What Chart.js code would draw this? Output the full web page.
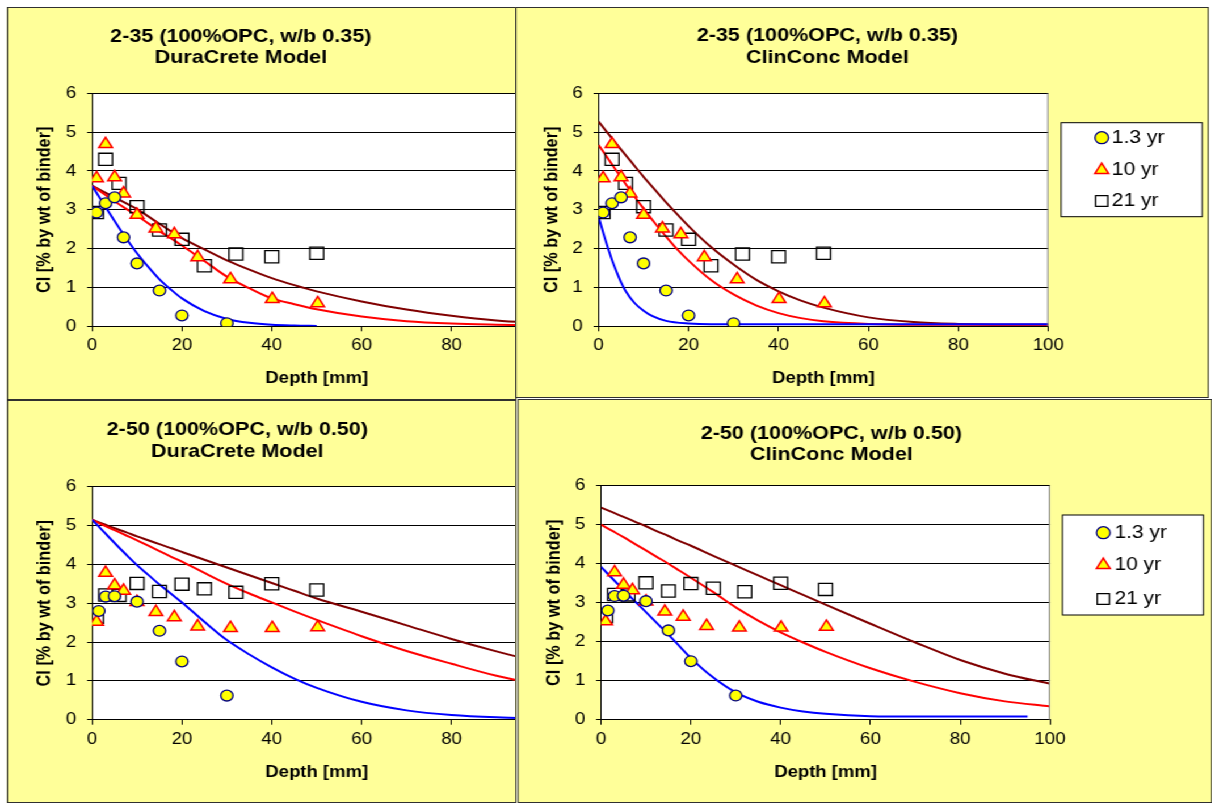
<!DOCTYPE html>
<html>
<head>
<meta charset="utf-8">
<title>Chloride profiles 2-35 / 2-50</title>
<script src="https://cdn.jsdelivr.net/npm/chart.js@4.4.1/dist/chart.umd.min.js"></script>
<style>
html, body { margin: 0; padding: 0; background: #fff; width: 1212px; height: 803px; overflow: hidden; }
/* the sheet is laid out in narrow units and widened by scaleX */
#sheet { position: absolute; left: 0; top: 0; width: 1068px; height: 803px; transform: scaleX(1.135); transform-origin: 0 0; }
.panel { position: absolute; box-sizing: border-box; background: #ffff99; border: 1.5px solid #303030; overflow: hidden; }
.panel canvas { position: absolute; left: -1.5px; top: -1.5px; }
</style>
</head>
<body>
<div id="sheet">
  <div class="panel" style="left:6.17px; top:7px; width:448.5px; height:393px;"><canvas id="dc35" width="500" height="393"></canvas></div>
  <div class="panel" style="left:453.7px; top:7px; width:611.5px; height:391px;"><canvas id="cc35" width="612" height="391"></canvas></div>
  <div class="panel" style="left:6.17px; top:400px; width:449.3px; height:403px;"><canvas id="dc50" width="500" height="403"></canvas></div>
  <div class="panel" style="left:455.5px; top:399px; width:612.3px; height:404px;"><canvas id="cc50" width="613" height="404"></canvas></div>
</div>
<script>
// measured chloride, depth in mm, Cl in % by wt of binder
const depth13yr35 = [1, 3, 5, 7, 10, 15, 20, 30];
const cl13yr35 = [2.93, 3.17, 3.32, 2.29, 1.62, 0.92, 0.28, 0.08];
const depth10yr = [1, 3, 5, 7, 10, 14.2, 18.3, 23.5, 30.8, 40.1, 50.2];
const cl10yr35 = [3.81, 4.69, 3.84, 3.42, 2.87, 2.52, 2.37, 1.78, 1.21, 0.70, 0.59];
const depth21yr = [1, 3, 6, 10, 15, 20, 25, 32, 40, 50];
const cl21yr35 = [2.93, 4.30, 3.68, 3.08, 2.48, 2.24, 1.56, 1.86, 1.79, 1.88];

const depth13yr50 = [1.5, 3, 5, 10, 15, 20, 30];
const cl13yr50 = [2.80, 3.17, 3.18, 3.04, 2.29, 1.50, 0.62];
const cl10yr50 = [2.52, 3.78, 3.46, 3.32, 3.03, 2.77, 2.64, 2.40, 2.36, 2.36, 2.38];
const cl21yr50 = [2.64, 3.21, 3.20, 3.51, 3.30, 3.49, 3.37, 3.28, 3.50, 3.34];

// model predictions
const modelDepth = [0, 2.5, 5, 7.5, 10, 12.5, 15, 17.5, 20, 25, 30, 35, 40, 45, 50, 60, 70, 80, 90, 100];
const dc35_13 = [3.62, 3.16, 2.71, 2.28, 1.88, 1.53, 1.21, 0.95, 0.72, 0.39, 0.19, 0.09, 0.04, 0.02, 0.01];
const dc35_10 = [3.62, 3.42, 3.22, 3.03, 2.85, 2.65, 2.45, 2.27, 2.08, 1.68, 1.28, 0.98, 0.72, 0.57, 0.44, 0.25, 0.13, 0.07, 0.04, 0.02];
const dc35_21 = [3.62, 3.47, 3.32, 3.17, 3.02, 2.83, 2.64, 2.45, 2.27, 1.98, 1.70, 1.46, 1.24, 1.06, 0.90, 0.64, 0.43, 0.27, 0.15, 0.08];

const cc35Depth13 = [0, 1, 2, 3, 4, 5, 6, 8, 10, 12, 15, 20, 25, 30, 40, 50, 60, 70, 80, 90, 100];
const cc35_13 = [2.82, 2.42, 2.05, 1.70, 1.40, 1.13, 0.91, 0.60, 0.40, 0.26, 0.14, 0.07, 0.05, 0.05, 0.05, 0.05, 0.05, 0.05, 0.05, 0.05, 0.05];
const cc35_10 = [4.67, 4.25, 3.83, 3.42, 3.03, 2.66, 2.31, 1.98, 1.69, 1.19, 0.82, 0.54, 0.34, 0.21, 0.13, 0.06, 0.04, 0.04, 0.04, 0.04];
const cc35_21 = [5.27, 4.91, 4.55, 4.20, 3.85, 3.52, 3.19, 2.88, 2.58, 2.04, 1.59, 1.20, 0.90, 0.66, 0.48, 0.23, 0.11, 0.06, 0.04, 0.04];

const dc50_13 = [5.15, 4.85, 4.55, 4.26, 3.98, 3.73, 3.48, 3.25, 3.02, 2.52, 2.05, 1.68, 1.35, 1.06, 0.82, 0.46, 0.24, 0.12, 0.06, 0.03];
const dc50_10 = [5.15, 5.01, 4.88, 4.75, 4.62, 4.48, 4.34, 4.20, 4.07, 3.78, 3.50, 3.25, 3.02, 2.79, 2.57, 2.15, 1.77, 1.44, 1.13, 0.88];
const dc50_21 = [5.15, 5.04, 4.93, 4.83, 4.72, 4.62, 4.52, 4.42, 4.32, 4.12, 3.92, 3.72, 3.52, 3.32, 3.12, 2.78, 2.43, 2.08, 1.76, 1.47];

const cc50Depth13 = [0, 2.5, 5, 7.5, 10, 12.5, 15, 17.5, 20, 25, 30, 35, 40, 45, 50, 60, 70, 80, 95];
const cc50_13 = [3.92, 3.62, 3.33, 3.04, 2.76, 2.47, 2.18, 1.88, 1.58, 1.08, 0.70, 0.46, 0.31, 0.21, 0.15, 0.09, 0.08, 0.08, 0.08];
const cc50_10 = [5.00, 4.84, 4.68, 4.51, 4.34, 4.17, 4.00, 3.82, 3.64, 3.27, 2.88, 2.54, 2.24, 1.98, 1.74, 1.32, 0.97, 0.68, 0.47, 0.34];
const cc50_21 = [5.44, 5.32, 5.20, 5.08, 4.96, 4.83, 4.71, 4.58, 4.46, 4.20, 3.95, 3.70, 3.45, 3.20, 2.95, 2.46, 1.98, 1.53, 1.18, 0.92];

const ageLabels = ['1.3 yr', '10 yr', '21 yr'];
const xTicks = { min: 0, max: 100, step: 20 };
const yTicks = { min: 0, max: 6, step: 1 };

const FONT = '"Liberation Sans", Arial, Helvetica, sans-serif';

function pts(xs, ys) {
    return ys.map((y, i) => ({ x: xs[i], y: y }));
}

function measured(label, xs, ys, style) {
    return Object.assign({ label: label, data: pts(xs, ys), showLine: false }, style);
}

function model(xs, ys, color) {
    return {
        label: '', data: pts(xs, ys), showLine: true, pointRadius: 0,
        borderColor: color, borderWidth: 2, fill: false, cubicInterpolationMode: 'monotone'
    };
}

const circleStyle = { pointStyle: 'circle', pointRadius: 5.4, backgroundColor: '#ffff00', borderColor: '#000080', borderWidth: 1.3 };
const triangleStyle = { pointStyle: 'triangle', pointRadius: 6.9, backgroundColor: '#ffff00', borderColor: '#ff0000', borderWidth: 1.5 };
const squareStyle = { pointStyle: 'rect', pointRadius: 8.6, backgroundColor: 'rgba(0,0,0,0)', borderColor: '#000000', borderWidth: 1.3 };

// white plot area, frame, two-line title and boxed legend
const panelDecor = {
    id: 'panelDecor',
    beforeDraw(chart) {
        const { ctx, chartArea: a } = chart;
        ctx.save();
        ctx.fillStyle = '#ffffff';
        ctx.fillRect(a.left, a.top, a.width, a.height);
        ctx.restore();
    },
    afterDraw(chart, args, opts) {
        const { ctx, chartArea: a } = chart;
        ctx.save();
        ctx.strokeStyle = '#808080';
        ctx.lineWidth = 1;
        ctx.beginPath();
        ctx.moveTo(a.right - 0.5, a.bottom);
        ctx.lineTo(a.right - 0.5, a.top);
        ctx.stroke();

        ctx.fillStyle = '#000';
        ctx.font = 'bold 19px ' + FONT;
        ctx.textAlign = 'center';
        ctx.textBaseline = 'middle';
        opts.title.forEach((line, i) => ctx.fillText(line, opts.titleX, opts.titleY[i]));

        const lg = opts.legend;
        if (lg) {
            const [x0, y0, x1, y1] = lg.box;
            ctx.fillStyle = '#ffffff';
            ctx.fillRect(x0, y0, x1 - x0, y1 - y0);
            ctx.strokeStyle = '#000';
            ctx.lineWidth = 1;
            ctx.strokeRect(x0, y0, x1 - x0, y1 - y0);
            const marks = chart.data.datasets.filter(d => !d.showLine);
            marks.forEach((ds, i) => {
                const y = lg.rows[i];
                ctx.fillStyle = ds.backgroundColor;
                ctx.strokeStyle = ds.borderColor;
                ctx.lineWidth = ds.borderWidth;
                Chart.helpers.drawPoint(ctx, {
                    pointStyle: ds.pointStyle, radius: lg.radius[i], rotation: 0, borderWidth: ds.borderWidth
                }, lg.markerX, y);
                ctx.fillStyle = '#000';
                ctx.font = '18.5px ' + FONT;
                ctx.textAlign = 'left';
                ctx.textBaseline = 'middle';
                ctx.fillText(ds.label, lg.textX, y);
            });
        }
        ctx.restore();
    }
};

function makePanel(id, data, geo) {
    const tickFont = { family: FONT, size: 16.5 };
    const titleFont = { family: FONT, size: 16.3, weight: 'bold' };
    return new Chart(document.getElementById(id), {
        type: 'scatter',
        data: {
            datasets: [
                measured(ageLabels[0], data.d13, data.m13, circleStyle),
                measured(ageLabels[1], depth10yr, data.m10, triangleStyle),
                measured(ageLabels[2], depth21yr, data.m21, squareStyle),
                model(data.c13x, data.c13, '#0000ff'),
                model(modelDepth, data.c10, '#ff0000'),
                model(modelDepth, data.c21, '#800000')
            ]
        },
        plugins: [panelDecor],
        options: {
            responsive: false,
            animation: false,
            events: [],
            layout: { padding: geo.pad },
            plugins: {
                legend: { display: false },
                tooltip: { enabled: false },
                panelDecor: { title: data.title, titleX: geo.titleX, titleY: geo.titleY, legend: geo.legend }
            },
            scales: {
                x: {
                    type: 'linear', min: xTicks.min, max: xTicks.max,
                    afterFit(s) { s.height = 70; },
                    ticks: { stepSize: xTicks.step, padding: 4.5, color: '#000', font: tickFont },
                    grid: { drawOnChartArea: false, drawTicks: true, tickLength: 5, color: '#000' },
                    border: { color: '#000', width: 1 },
                    title: { display: true, text: 'Depth [mm]', color: '#000', font: titleFont, padding: { top: 0, bottom: geo.xTitlePad } }
                },
                y: {
                    type: 'linear', min: yTicks.min, max: yTicks.max,
                    afterFit(s) { s.width = geo.yWidth; },
                    ticks: { stepSize: yTicks.step, padding: 9.5, color: '#000', font: tickFont },
                    grid: { color: '#000', tickLength: 4.4, lineWidth: 1 },
                    border: { color: '#000', width: 1 },
                    title: { display: true, text: 'Cl [% by wt of binder]', color: '#000', font: titleFont, padding: { top: 24, bottom: 0 } }
                }
            }
        }
    });
}

makePanel('dc35', {
    title: ['2-35 (100%OPC, w/b 0.35)', 'DuraCrete Model'],
    d13: depth13yr35, m13: cl13yr35, m10: cl10yr35, m21: cl21yr35,
    c13x: modelDepth, c13: dc35_13, c10: dc35_10, c21: dc35_21
}, {
    pad: { left: 0, top: 86.3, right: 29, bottom: 3.7 },
    yWidth: 75.15, xTitlePad: 8.5, titleX: 206.2, titleY: [29.5, 51]
});

makePanel('cc35', {
    title: ['2-35 (100%OPC, w/b 0.35)', 'ClinConc Model'],
    d13: depth13yr35, m13: cl13yr35, m10: cl10yr35, m21: cl21yr35,
    c13x: cc35Depth13, c13: cc35_13, c10: cc35_10, c21: cc35_21
}, {
    pad: { left: 0, top: 86.3, right: 141.3, bottom: 1.7 },
    yWidth: 74.4, xTitlePad: 8.5, titleX: 276, titleY: [29, 50.5],
    legend: { box: [481.9, 115.7, 606.2, 209.7], rows: [130.7, 163, 194], radius: [6, 7, 7.6], markerX: 517.7, textX: 526.6 }
});

makePanel('dc50', {
    title: ['2-50 (100%OPC, w/b 0.50)', 'DuraCrete Model'],
    d13: depth13yr50, m13: cl13yr50, m10: cl10yr50, m21: cl21yr50,
    c13x: modelDepth, c13: dc50_13, c10: dc50_10, c21: dc50_21
}, {
    pad: { left: 0, top: 86.7, right: 29, bottom: 13.3 },
    yWidth: 75.15, xTitlePad: 7.2, titleX: 203.1, titleY: [30, 51.7]
});

makePanel('cc50', {
    title: ['2-50 (100%OPC, w/b 0.50)', 'ClinConc Model'],
    d13: depth13yr50, m13: cl13yr50, m10: cl10yr50, m21: cl21yr50,
    c13x: cc50Depth13, c13: cc50_13, c10: cc50_10, c21: cc50_21
}, {
    pad: { left: 0, top: 86.7, right: 142.9, bottom: 13.3 },
    yWidth: 74.6, xTitlePad: 7.2, titleX: 277.5, titleY: [34.3, 56],
    legend: { box: [481.1, 116, 605.3, 216], rows: [133.7, 166, 200], radius: [6, 7, 7.6], markerX: 517.1, textX: 526.9 }
});
</script>
</body>
</html>
